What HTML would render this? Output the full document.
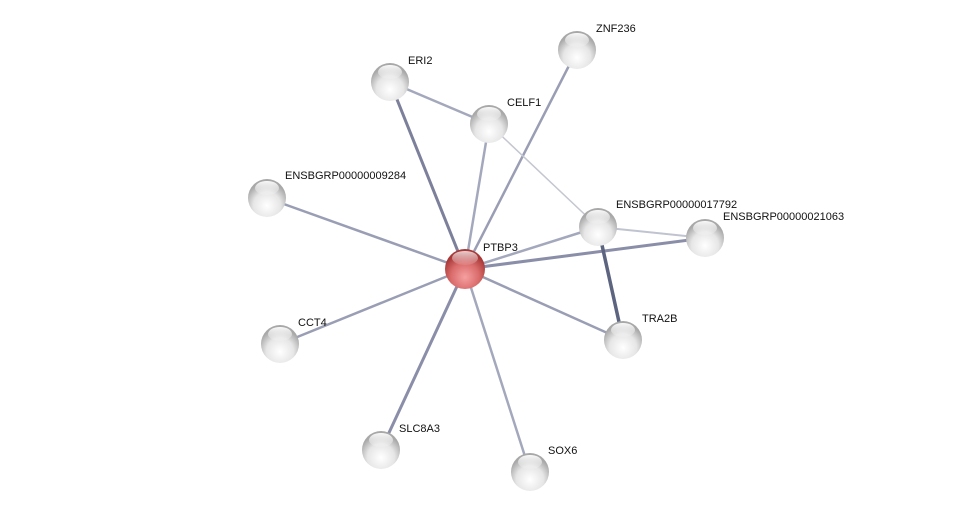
<!DOCTYPE html>
<html><head><meta charset="utf-8"><style>
html,body{margin:0;padding:0;background:#fff;}
svg text{font-family:"Liberation Sans",sans-serif;font-size:11px;fill:#111;}
</style></head><body>
<svg width="976" height="518" viewBox="0 0 976 518" xmlns="http://www.w3.org/2000/svg">
<defs>
<radialGradient id="g" cx="50%" cy="70%" r="60%">
<stop offset="0" stop-color="#ffffff"/><stop offset="0.6" stop-color="#e6e6e6"/><stop offset="1" stop-color="#a8a8a8"/>
</radialGradient>
<radialGradient id="r" cx="50%" cy="70%" r="60%">
<stop offset="0" stop-color="#f6a0a0"/><stop offset="0.6" stop-color="#d96a6a"/><stop offset="1" stop-color="#a83838"/>
</radialGradient>
<linearGradient id="h" x1="0" y1="0" x2="0" y2="1">
<stop offset="0" stop-color="#fff" stop-opacity="0.95"/><stop offset="1" stop-color="#fff" stop-opacity="0.1"/>
</linearGradient>
</defs>
<g stroke-linecap="round">
<line x1="465" y1="269" x2="577" y2="50" stroke="#9a9eb4" stroke-width="2.5"/>
<line x1="465" y1="269" x2="390" y2="82" stroke="#7c809a" stroke-width="3"/>
<line x1="465" y1="269" x2="489" y2="124" stroke="#a4a8bc" stroke-width="2.5"/>
<line x1="465" y1="269" x2="267" y2="198" stroke="#9a9eb4" stroke-width="2.5"/>
<line x1="465" y1="269" x2="598" y2="227" stroke="#a4a8bc" stroke-width="2.5"/>
<line x1="465" y1="269" x2="705" y2="238" stroke="#8a8ea8" stroke-width="3"/>
<line x1="465" y1="269" x2="280" y2="344" stroke="#9a9eb4" stroke-width="2.5"/>
<line x1="465" y1="269" x2="623" y2="340" stroke="#9a9eb4" stroke-width="2.5"/>
<line x1="465" y1="269" x2="381" y2="450" stroke="#8a8ea8" stroke-width="3"/>
<line x1="465" y1="269" x2="530" y2="472" stroke="#a4a8bc" stroke-width="2.5"/>
<line x1="390" y1="82" x2="489" y2="124" stroke="#a4a8bc" stroke-width="2.5"/>
<line x1="489" y1="124" x2="598" y2="227" stroke="#c4c6d0" stroke-width="1.5"/>
<line x1="598" y1="227" x2="705" y2="238" stroke="#c0c3d0" stroke-width="2"/>
<line x1="598" y1="227" x2="623" y2="340" stroke="#5c6480" stroke-width="3.5"/>
</g>
<g>
<circle cx="577" cy="50" r="19" fill="url(#g)"/><ellipse cx="577" cy="40" rx="12" ry="7" fill="url(#h)"/>
<circle cx="390" cy="82" r="19" fill="url(#g)"/><ellipse cx="390" cy="72" rx="12" ry="7" fill="url(#h)"/>
<circle cx="489" cy="124" r="19" fill="url(#g)"/><ellipse cx="489" cy="114" rx="12" ry="7" fill="url(#h)"/>
<circle cx="267" cy="198" r="19" fill="url(#g)"/><ellipse cx="267" cy="188" rx="12" ry="7" fill="url(#h)"/>
<circle cx="598" cy="227" r="19" fill="url(#g)"/><ellipse cx="598" cy="217" rx="12" ry="7" fill="url(#h)"/>
<circle cx="705" cy="238" r="19" fill="url(#g)"/><ellipse cx="705" cy="228" rx="12" ry="7" fill="url(#h)"/>
<circle cx="280" cy="344" r="19" fill="url(#g)"/><ellipse cx="280" cy="334" rx="12" ry="7" fill="url(#h)"/>
<circle cx="623" cy="340" r="19" fill="url(#g)"/><ellipse cx="623" cy="330" rx="12" ry="7" fill="url(#h)"/>
<circle cx="381" cy="450" r="19" fill="url(#g)"/><ellipse cx="381" cy="440" rx="12" ry="7" fill="url(#h)"/>
<circle cx="530" cy="472" r="19" fill="url(#g)"/><ellipse cx="530" cy="462" rx="12" ry="7" fill="url(#h)"/>
<circle cx="465" cy="269" r="20" fill="url(#r)"/><ellipse cx="465" cy="258" rx="13" ry="7" fill="url(#h)" opacity="0.8"/>
</g>
<g>
<text x="596" y="32">ZNF236</text>
<text x="408" y="64">ERI2</text>
<text x="507" y="106">CELF1</text>
<text x="285" y="179">ENSBGRP00000009284</text>
<text x="616" y="208">ENSBGRP00000017792</text>
<text x="723" y="220">ENSBGRP00000021063</text>
<text x="483" y="251">PTBP3</text>
<text x="298" y="326">CCT4</text>
<text x="642" y="322">TRA2B</text>
<text x="399" y="432">SLC8A3</text>
<text x="548" y="454">SOX6</text>
</g>
</svg>
</body></html>
